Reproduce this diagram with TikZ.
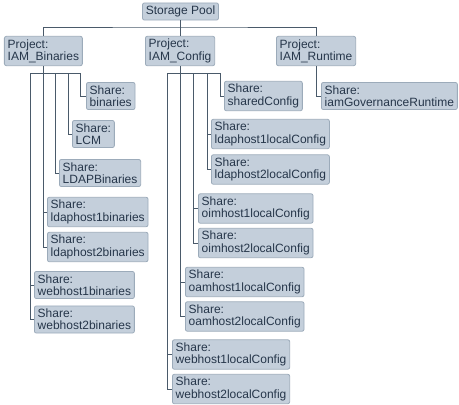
\documentclass[tikz,border=0pt]{standalone}
\usepackage{fontspec}
\setmainfont{Liberation Sans}
\usepackage{tikz}
\usetikzlibrary{positioning}
\definecolor{zfsfill}{HTML}{C4CFDB}
\definecolor{zfsedge}{HTML}{9CABBA}
\definecolor{zfstext}{HTML}{26364A}
\definecolor{zfsline}{HTML}{4A5A6A}
\begin{document}
\begin{tikzpicture}[x=1pt,y=-1pt,font=\fontsize{12}{12.3}\selectfont,
  box/.style={draw=zfsedge,line width=0.8pt,rounded corners=2pt,fill=zfsfill,text=zfstext,align=left,inner xsep=3.3pt,inner ysep=3pt},
  share/.style={box,anchor=west},
  wire/.style={draw=zfsline,line width=0.8pt}]
\useasboundingbox (0,0) rectangle (459,405);
\node[box](pool) at (180.5,11.5){Storage Pool};
\node[share](pbin) at (4,51){Project:\\IAM\_Binaries};
\node[share](pcfg) at (145,51){Project:\\IAM\_Config};
\node[share](prun) at (276,51){Project:\\IAM\_Runtime};
% shares of IAM_Binaries
\node[share](sbin) at (86,96){Share:\\binaries};
\node[share](slcm) at (72,134){Share:\\LCM};
\node[share](sldap) at (59,173){Share:\\LDAPBinaries};
\node[share](sl1b) at (47,212){Share:\\ldaphost1binaries};
\node[share](sl2b) at (47,247){Share:\\ldaphost2binaries};
\node[share](sw1b) at (34,285){Share:\\webhost1binaries};
\node[share](sw2b) at (34,319.5){Share:\\webhost2binaries};
% shares of IAM_Config
\node[share](sshc) at (224,96){Share:\\sharedConfig};
\node[share](sl1c) at (211,134){Share:\\ldaphost1localConfig};
\node[share](sl2c) at (211,169.5){Share:\\ldaphost2localConfig};
\node[share](so1c) at (198,208.5){Share:\\oimhost1localConfig};
\node[share](so2c) at (198,243){Share:\\oimhost2localConfig};
\node[share](sa1c) at (185,282){Share:\\oamhost1localConfig};
\node[share](sa2c) at (185,316.5){Share:\\oamhost2localConfig};
\node[share](sw1c) at (172,354.5){Share:\\webhost1localConfig};
\node[share](sw2c) at (172,389){Share:\\webhost2localConfig};
% share of IAM_Runtime
\node[share](sgov) at (321,96){Share:\\iamGovernanceRuntime};
\coordinate (poolbar) at (pool.south |- 0,27);
\coordinate[below=7pt of pbin.south](binbar);
\coordinate[below=7pt of pcfg.south](cfgbar);
\draw[wire] (pool.south) -- (pool.south |- pcfg.north);
\draw[wire] (pbin.north) |- (poolbar) -| (prun.north);
\draw[wire] (prun) |- (sgov);
% IAM_Binaries tree
\draw[wire] ([xshift=-12.5pt]binbar) -- ([xshift=37.5pt]binbar);
\draw[wire] (pbin) |- (sl2b);
\draw[wire] (pbin.south |- sl1b) -- (sl1b);
\draw[wire] ([xshift=-12.5pt]binbar) |- (sw2b);
\draw[wire] ([xshift=-12.5pt]binbar |- sw1b) -- (sw1b);
\foreach \dx/\n in {12.5/sldap,25/slcm,37.5/sbin}
  \draw[wire] ([xshift=\dx pt]binbar) |- (\n);
% IAM_Config tree
\draw[wire] ([xshift=-13pt]cfgbar) -- ([xshift=40pt]cfgbar);
\draw[wire] (pcfg) |- (sa2c);
\draw[wire] (pcfg.south |- sa1c) -- (sa1c);
\foreach \dx/\m/\n in {-13/sw1c/sw2c,13/so1c/so2c,27/sl1c/sl2c}{
  \draw[wire] ([xshift=\dx pt]cfgbar) |- (\n);
  \draw[wire] ([xshift=\dx pt]cfgbar |- \m) -- (\m);
}
\draw[wire] ([xshift=40pt]cfgbar) |- (sshc);
\end{tikzpicture}
\end{document}
